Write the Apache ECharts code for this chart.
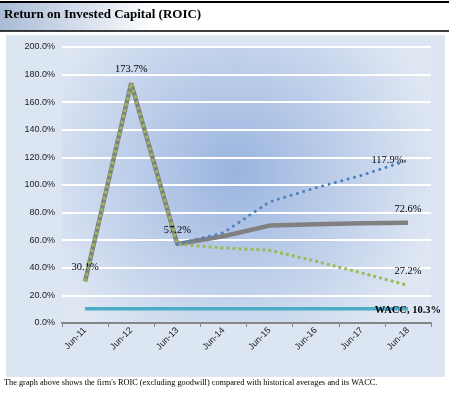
<!DOCTYPE html>
<html><head><meta charset="utf-8">
<script src="https://cdn.jsdelivr.net/npm/echarts@6/dist/echarts.min.js"></script>
<style>html,body{margin:0;padding:0;background:#fff}#c{width:449px;height:394px}</style>
</head><body><div id="c"></div>
<script>
const categories = ['Jun-11','Jun-12','Jun-13','Jun-14','Jun-15','Jun-16','Jun-17','Jun-18'];
const roicActual = [30.1, 173.7, 57.2, 62.9, 70.6, 71.6, 72.3, 72.6];
const roicLow = [30.1, 173.7, 57.2, 54.4, 52.7, 44.8, 36.3, 27.2];
const roicHigh = [null, null, 57.2, 65.4, 87.8, 97.9, 107.1, 117.9];
const wacc = [10.3, 10.3, 10.3, 10.3, 10.3, 10.3, 10.3, 10.3];
const yTicks = [0, 20, 40, 60, 80, 100, 120, 140, 160, 180, 200];

const serif = '"Liberation Serif","Times New Roman",serif';
const sans = '"Liberation Sans",Arial,sans-serif';
const lblStyle = {color:'#000', fontFamily: serif, fontSize: 10.5};

function withLabels(arr, labelMap){
  return arr.map((v,i)=>{
    if (labelMap[i]) return {value:v, label:Object.assign({show:true, formatter:v.toFixed(1)+'%'}, lblStyle, labelMap[i])};
    return v;
  });
}

const chart = echarts.init(document.getElementById('c'), null, {renderer:'canvas'});
chart.setOption({
  animation:false,
  backgroundColor:'#fff',
  graphic:[
    {type:'rect', shape:{x:0,y:2,width:449,height:29}, style:{fill:new echarts.graphic.LinearGradient(0,0,1,0,[{offset:0,color:'#a9bbd6'},{offset:0.35,color:'#ffffff'},{offset:1,color:'#ffffff'}])}, z:-10},
    {type:'line', shape:{x1:0,y1:2,x2:449,y2:2}, style:{stroke:'#000',lineWidth:2}},
    {type:'line', shape:{x1:0,y1:31,x2:449,y2:31}, style:{stroke:'#000',lineWidth:1.5}},
    {type:'text', left:4, top:8, style:{text:'Return on Invested Capital (ROIC)', font:'bold 13px '+serif, fill:'#000'}},
    {type:'rect', shape:{x:6,y:35,width:439,height:342}, style:{fill:'#dce6f2'}, z:-10},
    {type:'text', left:4, top:379, style:{text:"The graph above shows the firm's ROIC (excluding goodwill) compared with historical averages and its WACC.", font:'8.3px '+serif, fill:'#000'}}
  ],
  grid:{left:62, right:18, top:47, bottom:71, show:true, borderWidth:0,
    backgroundColor:new echarts.graphic.RadialGradient(0.47,0.45,0.75,[{offset:0,color:'#9ab4df'},{offset:1,color:'#dfe7f3'}])},
  xAxis:{type:'category', data:categories, boundaryGap:true,
    axisLine:{lineStyle:{color:'#868686', width:2}},
    axisTick:{show:true, length:4, lineStyle:{color:'#868686'}},
    axisLabel:{rotate:45, fontFamily:sans, fontSize:9, color:'#222', margin:6}},
  yAxis:{type:'value', min:0, max:200, interval:20,
    axisLine:{show:false}, axisTick:{show:false},
    splitLine:{lineStyle:{color:'#ffffff', width:2}},
    axisLabel:{formatter:v=>v.toFixed(1)+'%', fontFamily:sans, fontSize:9, color:'#222', margin:7}},
  series:[
    {type:'line', data:withLabels(roicActual,{0:{position:'top',distance:8},1:{position:'top',distance:8},2:{position:'top',distance:8},7:{position:'top',distance:8}}),
      symbol:'circle', symbolSize:1, itemStyle:{color:'rgba(0,0,0,0)'}, lineStyle:{color:'#808080', width:4.5}, z:2},
    {type:'line', data:withLabels(roicLow,{7:{position:'top',distance:8}}),
      symbol:'circle', symbolSize:1, itemStyle:{color:'rgba(0,0,0,0)'}, lineStyle:{color:'#9bbb59', width:3, type:[3,3]}, z:3},
    {type:'line', data:withLabels(roicHigh,{7:{position:'left',distance:4}}), connectNulls:false,
      symbol:'circle', symbolSize:1, itemStyle:{color:'rgba(0,0,0,0)'}, lineStyle:{color:'#4f81bd', width:3, type:[0.1,6.5], cap:'round'}, z:3},
    {type:'line', data:wacc.map((v,i)=> i===7 ? {value:v, label:{show:true, formatter:'WACC, '+v.toFixed(1)+'%', position:'top', distance:0, offset:[0,7], color:'#000', fontFamily:serif, fontSize:10.5, fontWeight:'bold'}} : v),
      symbol:'circle', symbolSize:1, itemStyle:{color:'rgba(0,0,0,0)'}, lineStyle:{color:'#4bacc6', width:3.5}, z:1}
  ]
});
</script></body></html>
